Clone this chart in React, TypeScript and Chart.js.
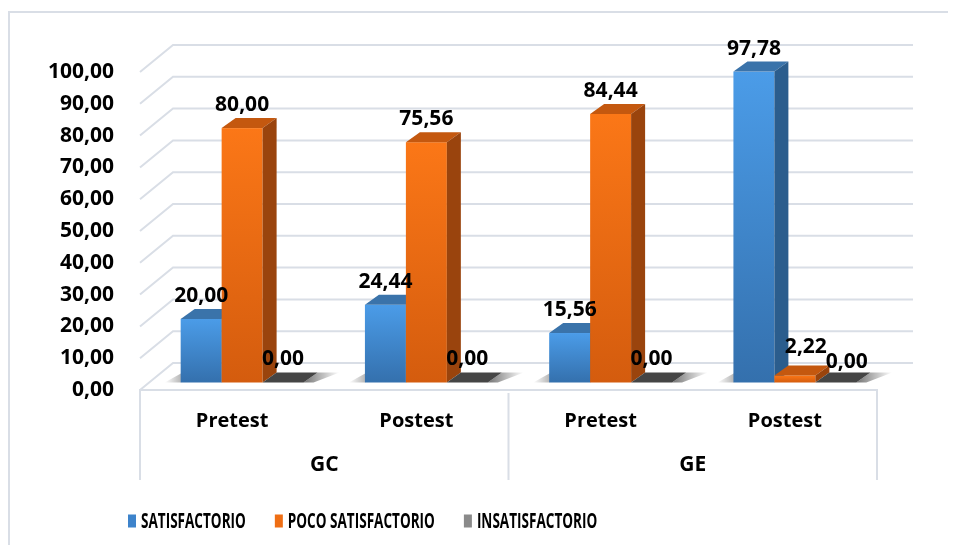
import React, { useEffect, useRef } from 'react';
import { Chart, registerables } from 'chart.js';

Chart.register(...registerables);

// ---- data ----
const categories = ['Pretest', 'Postest', 'Pretest', 'Postest'];
const groupLabels = ['GC', 'GE'];
const groupSizes = [2, 2];
const satisfactorio = [20.0, 24.44, 15.56, 97.78];
const pocoSatisfactorio = [80.0, 75.56, 84.44, 2.22];
const insatisfactorio = [0.0, 0.0, 0.0, 0.0];
const seriesNames = ['SATISFACTORIO', 'POCO SATISFACTORIO', 'INSATISFACTORIO'];
const yMin = 0;
const yMax = 100;
const yStep = 10;

// ---- styles ----
const FONT = "'Open Sans', 'DejaVu Sans', sans-serif";
const palette = [
  { frontTop: '#4b9ce8', frontBottom: '#3470ad', side: '#2b5d8d', top: '#3a73aa', legend: '#3d83cb' },
  { frontTop: '#fb7717', frontBottom: '#d45c0e', side: '#9a440d', top: '#c4580f', legend: '#ef6e14' },
  { frontTop: '#7a7a7a', frontBottom: '#5a5a5a', side: '#3a3a3a', top: '#454545', legend: '#8a8a8a' },
];
const GRID = '#d9dee6';
const BAR_SHIFT = { x: 10, y: -7.5 };
const DEPTH = { x: 14, y: -10 };
const WALL = { x: 33, y: -27 };

const fmt = (v: number) => v.toFixed(2).replace('.', ',');

const threeD = {
  id: 'threeD',
  beforeDraw(chart: any) {
    const { ctx, chartArea } = chart;
    const ys = chart.scales.y;
    const xs = chart.scales.x;
    const L = chartArea.left;
    const R = chartArea.right;
    const B = chartArea.bottom;
    ctx.save();
    ctx.strokeStyle = GRID;
    ctx.lineWidth = 2;
    ctx.beginPath();
    ctx.moveTo(1, chart.height);
    ctx.lineTo(1, 4);
    ctx.lineTo(chart.width, 4);
    ctx.stroke();
    ys.ticks.forEach((t: any) => {
      const y = ys.getPixelForValue(t.value);
      ctx.beginPath();
      ctx.moveTo(L, y);
      ctx.lineTo(L + WALL.x, y + WALL.y);
      ctx.lineTo(R + WALL.x + 3, y + WALL.y);
      ctx.stroke();
    });
    const boxBottom = B + 90;
    ctx.beginPath();
    ctx.moveTo(L, boxBottom);
    ctx.lineTo(L, B);
    ctx.lineTo(R, B);
    ctx.lineTo(R, boxBottom);
    let idx = 0;
    for (let g = 0; g < groupSizes.length - 1; g++) {
      idx += groupSizes[g];
      const xb = (xs.getPixelForValue(idx - 1) + xs.getPixelForValue(idx)) / 2;
      ctx.moveTo(xb, B + 3);
      ctx.lineTo(xb, boxBottom);
    }
    ctx.stroke();
    ctx.restore();
  },
  beforeDatasetsDraw(chart: any) {
    const { ctx } = chart;
    const metas = chart.data.datasets.map((_: any, d: number) => chart.getDatasetMeta(d));
    const n = categories.length;
    ctx.save();
    for (let i = 0; i < n; i++) {
      const first = metas[0].data[i];
      const last = metas[metas.length - 1].data[i];
      const gl = first.x - first.width / 2 + BAR_SHIFT.x;
      const gr = last.x + last.width / 2 + BAR_SHIFT.x;
      const gb = first.base + BAR_SHIFT.y;
      let grad = ctx.createLinearGradient(gl - 16, 0, gl + 4, 0);
      grad.addColorStop(0, 'rgba(0,0,0,0)');
      grad.addColorStop(1, 'rgba(0,0,0,0.35)');
      ctx.fillStyle = grad;
      ctx.beginPath();
      ctx.moveTo(gl - 16, gb);
      ctx.lineTo(gl, gb);
      ctx.lineTo(gl + DEPTH.x, gb + DEPTH.y);
      ctx.lineTo(gl + DEPTH.x - 12, gb + DEPTH.y);
      ctx.closePath();
      ctx.fill();
      grad = ctx.createLinearGradient(gr, 0, gr + DEPTH.x + 22, 0);
      grad.addColorStop(0, 'rgba(0,0,0,0.55)');
      grad.addColorStop(1, 'rgba(0,0,0,0)');
      ctx.fillStyle = grad;
      ctx.beginPath();
      ctx.moveTo(gr, gb);
      ctx.lineTo(gr + DEPTH.x, gb + DEPTH.y);
      ctx.lineTo(gr + DEPTH.x + 22, gb + DEPTH.y);
      ctx.lineTo(gr + 10, gb);
      ctx.closePath();
      ctx.fill();

      for (let d = 0; d < metas.length; d++) {
        const el = metas[d].data[i];
        const c = palette[d];
        const left = el.x - el.width / 2 + BAR_SHIFT.x;
        const right = el.x + el.width / 2 + BAR_SHIFT.x;
        const top = el.y + BAR_SHIFT.y;
        const bottom = el.base + BAR_SHIFT.y;
        if (bottom - top > 0.3) {
          const fg = ctx.createLinearGradient(0, top, 0, bottom);
          fg.addColorStop(0, c.frontTop);
          fg.addColorStop(1, c.frontBottom);
          ctx.fillStyle = fg;
          ctx.fillRect(left, top, right - left, bottom - top);
        }
        ctx.fillStyle = c.top;
        ctx.beginPath();
        ctx.moveTo(left, top);
        ctx.lineTo(right, top);
        ctx.lineTo(right + DEPTH.x, top + DEPTH.y);
        ctx.lineTo(left + DEPTH.x, top + DEPTH.y);
        ctx.closePath();
        ctx.fill();
        if (bottom - top > 0.3) {
          ctx.fillStyle = c.side;
          ctx.beginPath();
          ctx.moveTo(right, top);
          ctx.lineTo(right + DEPTH.x, top + DEPTH.y);
          ctx.lineTo(right + DEPTH.x, bottom + DEPTH.y);
          ctx.lineTo(right, bottom);
          ctx.closePath();
          ctx.fill();
        }
      }
    }
    ctx.restore();
    return false;
  },
  afterDraw(chart: any) {
    const { ctx, chartArea } = chart;
    const xs = chart.scales.x;
    const metas = chart.data.datasets.map((_: any, d: number) => chart.getDatasetMeta(d));
    ctx.save();
    ctx.font = `bold 21px ${FONT}`;
    ctx.fillStyle = '#000';
    ctx.textAlign = 'center';
    ctx.textBaseline = 'middle';
    for (let i = 0; i < categories.length; i++) {
      const items = metas.map((m: any, d: number) => {
        const el = m.data[i];
        const txt = fmt(chart.data.datasets[d].data[i]);
        return { txt, x: el.x + BAR_SHIFT.x, y: el.y + BAR_SHIFT.y - 23, w: ctx.measureText(txt).width };
      });
      for (let k = 1; k < items.length; k++) {
        const a = items[k - 1];
        const b = items[k];
        const overlapX = (a.w + b.w) / 2 + 6 - (b.x - a.x);
        if (overlapX > 0 && Math.abs(a.y - b.y) < 22) {
          a.x += 11; a.y -= 5;
          b.x += 11; b.y += 3;
        }
      }
      items.forEach((it: any) => ctx.fillText(it.txt, it.x, it.y));
    }
    let start = 0;
    groupLabels.forEach((g, gi) => {
      const end = start + groupSizes[gi] - 1;
      const cx = (xs.getPixelForValue(start) + xs.getPixelForValue(end)) / 2;
      ctx.fillText(g, cx, chartArea.bottom + 75);
      start = end + 1;
    });
    ctx.font = `bold 21px ${FONT}`;
    ctx.textAlign = 'left';
    const ly = chartArea.bottom + 131;
    let lx = 120;
    const sx = 0.645;
    chart.data.datasets.forEach((ds: any, d: number) => {
      ctx.fillStyle = palette[d].legend;
      ctx.fillRect(lx, ly - 6.5, 8, 13);
      lx += 13;
      ctx.save();
      ctx.translate(lx, ly);
      ctx.scale(sx, 1);
      ctx.fillStyle = '#000';
      ctx.fillText(ds.label, 0, 1);
      ctx.restore();
      lx += ctx.measureText(ds.label).width * sx + 29;
    });
    ctx.restore();
  },
};

export default function App() {
  const ref = useRef<HTMLCanvasElement>(null);
  useEffect(() => {
    if (!ref.current) return;
    const chart = new Chart(ref.current, {
      type: 'bar',
      data: {
        labels: categories,
        datasets: [
          { label: seriesNames[0], data: satisfactorio, backgroundColor: palette[0].legend },
          { label: seriesNames[1], data: pocoSatisfactorio, backgroundColor: palette[1].legend },
          { label: seriesNames[2], data: insatisfactorio, backgroundColor: palette[2].legend },
        ],
      },
      options: {
        animation: false,
        responsive: true,
        maintainAspectRatio: false,
        datasets: { bar: { categoryPercentage: 0.667, barPercentage: 1 } },
        layout: { padding: { top: 64, right: 71, bottom: 55, left: 0 } },
        plugins: { legend: { display: false }, tooltip: { enabled: false } },
        scales: {
          x: {
            type: 'category',
            grid: { display: false },
            border: { display: false },
            ticks: { font: { family: FONT, size: 20, weight: 'bold' }, color: '#000', padding: 11 },
            afterFit: (s: any) => { s.height = 100; },
          },
          y: {
            min: yMin,
            max: yMax,
            grid: { display: false },
            border: { display: false },
            ticks: {
              stepSize: yStep,
              font: { family: FONT, size: 21, weight: 'bold' },
              color: '#000',
              padding: 18,
              callback: (v: any) => fmt(Number(v)),
            },
            afterFit: (s: any) => { s.width = 132; },
          },
        },
      },
      plugins: [threeD],
    });
    return () => chart.destroy();
  }, []);
  return (
    <div style={{ position: 'relative', width: 940, height: 537 }}>
      <canvas ref={ref} />
    </div>
  );
}
